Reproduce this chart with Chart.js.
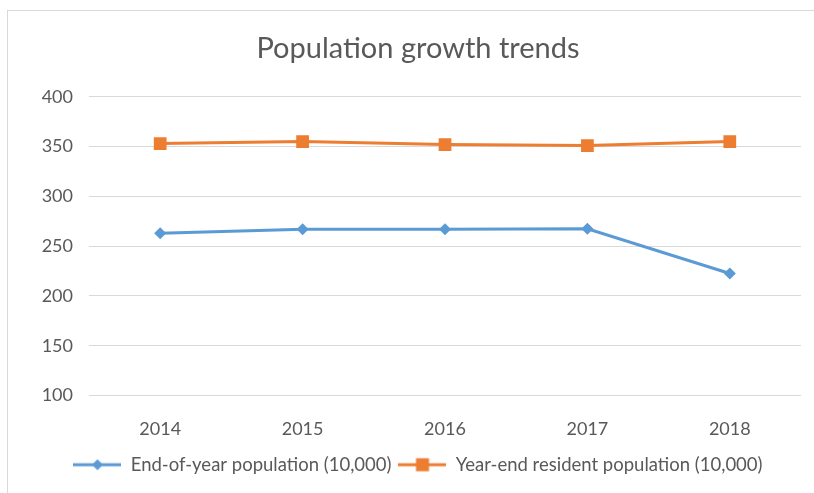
<!DOCTYPE html>
<html>
<head>
<meta charset="utf-8">
<script src="https://cdn.jsdelivr.net/npm/chart.js@4"></script>
<style>
    html, body { margin: 0; padding: 0; background: #fff; overflow: hidden; }
    #frame { position: absolute; left: 7px; top: 10px; width: 900px; height: 600px; border: 1px solid #d9d9d9; }
    #wrap { position: absolute; left: 0; top: 0; width: 814px; height: 493px; }
</style>
</head>
<body>
<div id="frame"></div>
<div id="wrap"><canvas id="popChart"></canvas></div>
<script>
// chart data
const years = ['2014', '2015', '2016', '2017', '2018'];
const endOfYear = [263, 267, 267, 267.5, 222.5];
const resident = [353, 355, 352, 351, 355];
const seriesNames = ['End-of-year population (10,000)', 'Year-end resident population (10,000)'];
const yTicks = [100, 150, 200, 250, 300, 350, 400];

const BLUE = '#5b9bd5';
const ORANGE = '#ed7d31';
const TEXT = '#595959';
const FONT = 'Lato, "Open Sans", sans-serif';

// legend sample: short line with the marker in the middle
function legendSample(color, shape) {
    const c = document.createElement('canvas');
    c.width = 48;
    c.height = 16;
    const g = c.getContext('2d');
    g.strokeStyle = color;
    g.lineWidth = 3;
    g.beginPath();
    g.moveTo(0, 8);
    g.lineTo(48, 8);
    g.stroke();
    g.fillStyle = color;
    if (shape === 'diamond') {
        g.beginPath();
        g.moveTo(24, 2.5);
        g.lineTo(29.5, 8);
        g.lineTo(24, 13.5);
        g.lineTo(18.5, 8);
        g.closePath();
        g.fill();
    } else {
        g.fillRect(17.5, 1.5, 13, 13);
    }
    return c;
}
const samples = [legendSample(BLUE, 'diamond'), legendSample(ORANGE, 'square')];

const ctx = document.getElementById('popChart').getContext('2d');
const popChart = new Chart(ctx, {
    type: 'line',
    data: {
        labels: years,
        datasets: [{
            label: seriesNames[0],
            data: endOfYear,
            borderColor: BLUE,
            backgroundColor: BLUE,
            borderWidth: 3,
            pointStyle: 'rectRot',
            pointRadius: 6,
            pointBorderWidth: 0,
            tension: 0
        }, {
            label: seriesNames[1],
            data: resident,
            borderColor: ORANGE,
            backgroundColor: ORANGE,
            borderWidth: 3,
            pointStyle: 'rect',
            pointRadius: 9,
            pointBorderWidth: 0,
            tension: 0
        }]
    },
    options: {
        responsive: true,
        maintainAspectRatio: false,
        animation: false,
        layout: { padding: { left: 22, right: 0, top: 0, bottom: 9 } },
        plugins: {
            title: {
                display: true,
                text: 'Population growth trends',
                color: TEXT,
                font: { family: FONT, size: 29, weight: 'normal' },
                padding: { top: 31, bottom: 31 }
            },
            legend: {
                position: 'bottom',
                labels: {
                    color: TEXT,
                    font: { family: FONT, size: 18.5 },
                    usePointStyle: true,
                    pointStyleWidth: 48,
                    boxHeight: 16,
                    padding: 7,
                    generateLabels: function(chart) {
                        const items = Chart.defaults.plugins.legend.labels.generateLabels(chart);
                        items.forEach((it, i) => { it.pointStyle = samples[i]; });
                        return items;
                    }
                }
            },
            tooltip: { enabled: false }
        },
        scales: {
            x: {
                offset: true,
                grid: { display: false },
                border: { display: false },
                ticks: { color: TEXT, font: { family: FONT, size: 18 }, padding: 15 },
                afterFit: function(s) { s.height = 53; }
            },
            y: {
                min: yTicks[0],
                max: yTicks[yTicks.length - 1],
                afterBuildTicks: function(s) { s.ticks = yTicks.map(v => ({ value: v })); },
                grid: { color: '#d9d9d9', lineWidth: 1, drawTicks: false },
                border: { display: false },
                ticks: { color: TEXT, font: { family: FONT, size: 18 }, padding: 16 },
                afterFit: function(s) { s.width = 67; }
            },
            pad: {
                type: 'linear',
                position: 'right',
                grid: { display: false },
                border: { display: false },
                ticks: { display: false },
                afterFit: function(s) { s.width = 13; }
            }
        }
    }
});
</script>
</body>
</html>
